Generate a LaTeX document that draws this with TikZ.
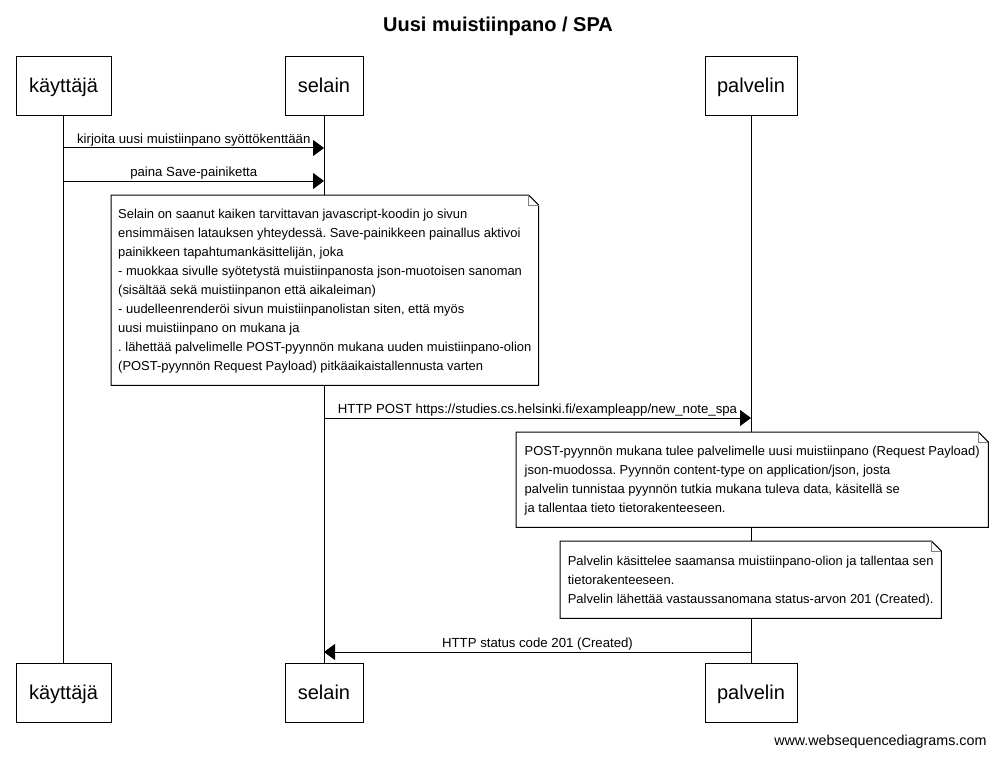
\documentclass[tikz,border=0pt]{standalone}
\usepackage{fontspec}
\setmainfont{Liberation Sans}
\usetikzlibrary{arrows.meta}
\frenchspacing

\begin{document}
\begin{tikzpicture}[
    x=1pt, y=-1pt,
    actor/.style={draw, line width=1pt, minimum height=59pt, inner sep=0pt, text height=17pt, text depth=4pt, font=\fontsize{20}{24}\selectfont},
    note/.style={fill=white, anchor=north west, align=left, inner xsep=7pt, inner ysep=0pt, text depth=-6pt, font=\fontsize{12.95}{19}\selectfont},
    msg/.style={line width=1pt, ->},
    msglabel/.style={midway, anchor=base, yshift=5pt, inner sep=0pt, font=\fontsize{13.2}{16}\selectfont},
    >={Triangle[length=11pt,width=16pt]}
]
\useasboundingbox (0,0) rectangle (996,757);
\node[font=\bfseries\fontsize{20}{24}\selectfont] (title) at (498,26) {Uusi muistiinpano / SPA};

% participants, top and bottom
\node[actor, minimum width=95pt] (kayttaja) at (63.5,86.5) {käyttäjä};
\node[actor, minimum width=78pt] (selain) at (324,86.5) {selain};
\node[actor, minimum width=92pt] (palvelin) at (751,86.5) {palvelin};
\node[actor, minimum width=95pt] (kayttajaB) at (63.5,693) {käyttäjä};
\node[actor, minimum width=78pt] (selainB) at (324,693) {selain};
\node[actor, minimum width=92pt] (palvelinB) at (751,693) {palvelin};

% lifelines
\foreach \p in {kayttaja,selain,palvelin}
    \draw[line width=1pt] (\p) -- (\p B);

% message end points
\coordinate (k1) at (63.5,148);
\coordinate (s1) at (324,148);
\coordinate (k2) at (63.5,181);
\coordinate (s2) at (324,181);
\coordinate (s3) at (324,418);
\coordinate (p3) at (751,418);
\coordinate (p4) at (751,652);
\coordinate (s4) at (324,652);

\draw[msg] (k1) -- (s1) node[msglabel] {kirjoita uusi muistiinpano syöttökenttään};
\draw[msg] (k2) -- (s2) node[msglabel] {paina Save-painiketta};

\node[note, minimum width=427pt, minimum height=190pt] (note1) at (111,195) {Selain on saanut kaiken tarvittavan javascript-koodin jo sivun\\
ensimmäisen latauksen yhteydessä. Save-painikkeen painallus aktivoi\\
painikkeen tapahtumankäsittelijän, joka\\
- muokkaa sivulle syötetystä muistiinpanosta json-muotoisen sanoman\\
(sisältää sekä muistiinpanon että aikaleiman)\\
- uudelleenrenderöi sivun muistiinpanolistan siten, että myös\\
uusi muistiinpano on mukana ja\\
. lähettää palvelimelle POST-pyynnön mukana uuden muistiinpano-olion\\
(POST-pyynnön Request Payload) pitkäaikaistallennusta varten};

\draw[msg] (s3) -- (p3) node[msglabel] {HTTP POST https://studies.cs.helsinki.fi/exampleapp/new\_note\_spa};

\node[note, minimum width=472pt, minimum height=95pt] (note2) at (516,432) {POST-pyynnön mukana tulee palvelimelle uusi muistiinpano (Request Payload)\\
json-muodossa. Pyynnön content-type on application/json, josta\\
palvelin tunnistaa pyynnön tutkia mukana tuleva data, käsitellä se\\
ja tallentaa tieto tietorakenteeseen.};

\node[note, minimum width=381pt, minimum height=77pt] (note3) at (560,541) {Palvelin käsittelee saamansa muistiinpano-olion ja tallentaa sen\\
tietorakenteeseen.\\
Palvelin lähettää vastaussanomana status-arvon 201 (Created).};

% folded corners of the notes
\foreach \n in {note1,note2,note3} {
    \draw[line width=1pt] (\n.south west) -- (\n.north west) -- ([xshift=-10pt]\n.north east)
        -- ([yshift=-10pt]\n.north east) -- (\n.south east) -- cycle;
    \draw[gray] ([xshift=-10pt]\n.north east) -- ([xshift=-10pt,yshift=-10pt]\n.north east)
        -- ([yshift=-10pt]\n.north east);
}

\draw[msg] (p4) -- (s4) node[msglabel] {HTTP status code 201 (Created)};

\node[anchor=east, font=\fontsize{14.3}{17}\selectfont] (footer) at (990,742) {www.websequencediagrams.com};
\end{tikzpicture}
\end{document}
